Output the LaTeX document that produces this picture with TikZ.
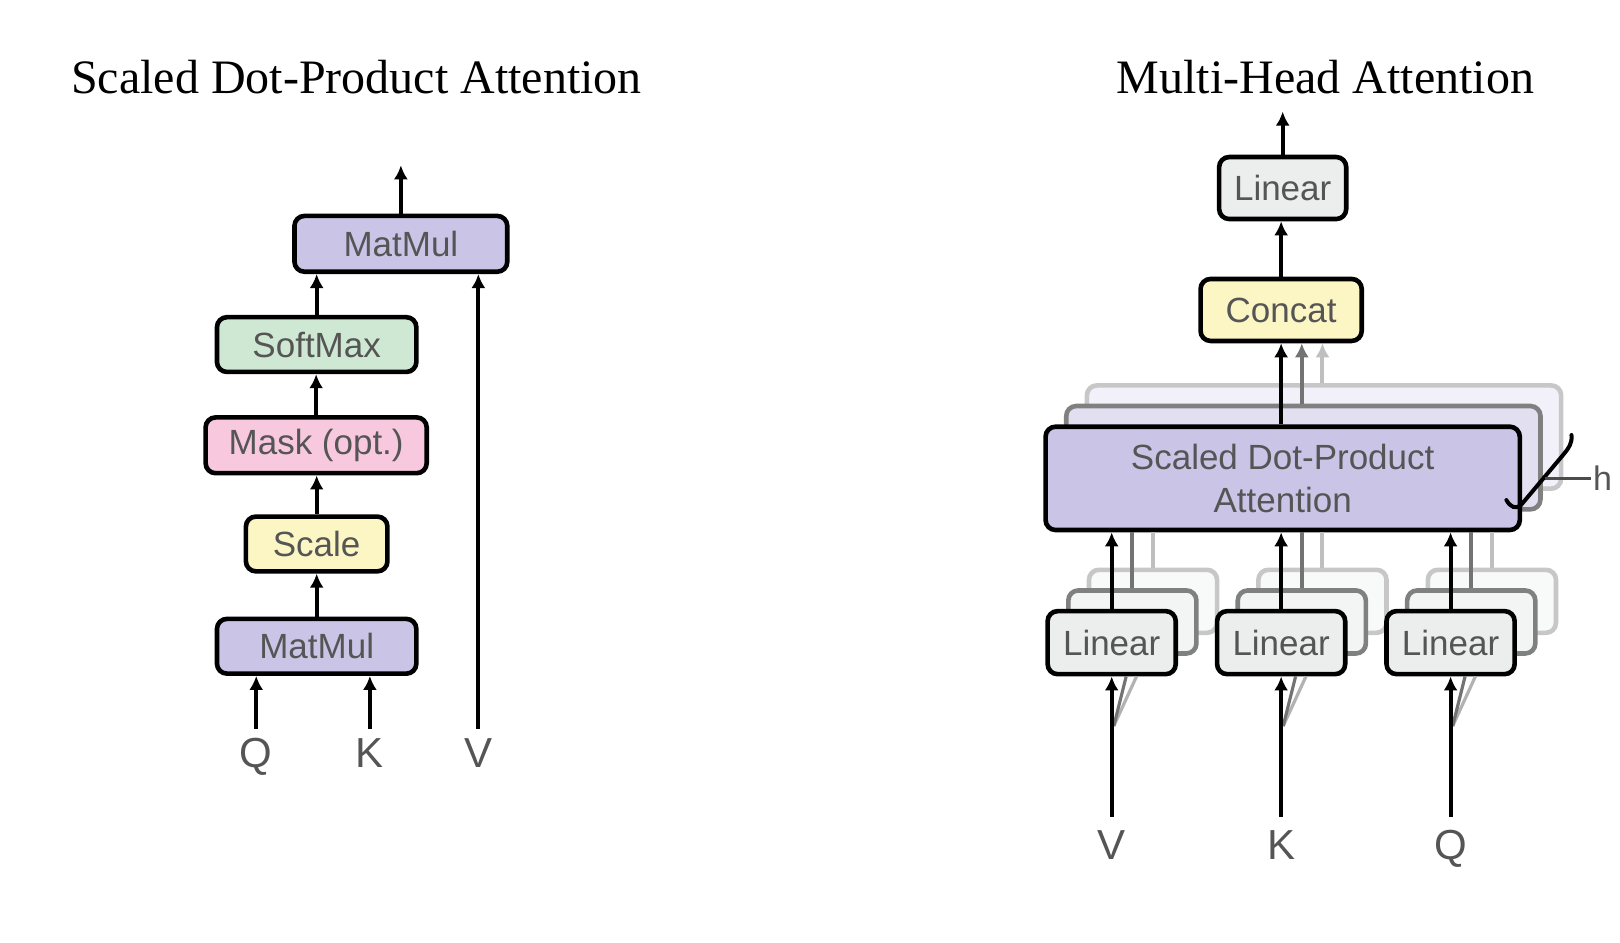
\documentclass[tikz,border=0pt]{standalone}
\usepackage{fontspec}
\setmainfont{Liberation Serif}
\setsansfont{Liberation Sans}
\usetikzlibrary{arrows.meta,calc}
\definecolor{cpurp}{HTML}{CAC4E6}
\definecolor{cgreen}{HTML}{CFE8D3}
\definecolor{cpink}{HTML}{F8C9DE}
\definecolor{cyel}{HTML}{FCF6C4}
\definecolor{cgray}{HTML}{ECEEEE}
\definecolor{ctext}{HTML}{555555}
\def\u{0.5166pt}
\begin{document}
\begin{tikzpicture}[x=\u, y=-\u,
  box/.style={draw=black, line width=2.3pt, rounded corners=5pt, inner sep=0pt,
    font=\sffamily\fontsize{17.5}{21.5}\selectfont, text=ctext},
  sz/.style 2 args={minimum width=#1*\u, minimum height=#2*\u},
  arr/.style={-{Latex[length=7pt,width=7pt]}, line width=2pt},
  lbl/.style={font=\sffamily\fontsize{21}{24}\selectfont, text=ctext, inner sep=2pt,
    text height=15pt, text depth=0pt},
  ttl/.style={font=\fontsize{24}{28}\selectfont, text=black},
  ghost/.style={line width=2pt}]
\useasboundingbox (0,0) rectangle (1568,912);

% ---------------- left: scaled dot-product attention
\node[ttl] (t1) at (345,75) {Scaled Dot-Product Attention};
\node[box, fill=cpurp, sz={206}{54}] (mm2) at (388,236) {MatMul};
\node[box, fill=cgreen, sz={193}{53}] (sm) at (306.5,333.5) {SoftMax};
\node[box, fill=cpink, sz={214}{54}] (mask) at (306,431) {Mask (opt.)};
\node[box, fill=cyel, sz={137}{53}] (sc) at (306.5,526.5) {Scale};
\node[box, fill=cpurp, sz={193}{53}] (mm1) at (306.5,625.5) {MatMul};
\node[lbl] (q1) at (248,728) {Q};
\node[lbl] (k1) at (358,728) {K};
\node[lbl] (v1) at (463,728) {V};
\coordinate (o1) at (388,160);
\draw[arr] (mm2.north) -- (o1);
\draw[arr] (sm.north) -- (sm.north |- mm2.south);
\draw[arr] (mask.north) -- (mask.north |- sm.south);
\draw[arr] (sc.north) -- (sc.north |- mask.south);
\draw[arr] (mm1.north) -- (mm1.north |- sc.south);
\draw[arr] ([yshift=2pt]q1.north) -- (q1.north |- mm1.south);
\draw[arr] ([yshift=2pt]k1.north) -- (k1.north |- mm1.south);
\draw[arr] ([yshift=2pt]v1.north) -- (v1.north |- mm2.south);

% ---------------- right: multi-head attention
\node[ttl] (t2) at (1283,75) {Multi-Head Attention};
\node[box, fill=cgray, sz={123}{60}] (lin) at (1241.5,182) {Linear};
\node[box, fill=cyel, sz={156}{60}] (cat) at (1240,300) {Concat};
\coordinate (o2) at (1241.5,108);
\draw[arr] (lin.north) -- (o2);
\draw[arr] (cat.north) -- (cat.north |- lin.south);

\node[box, fill=cpurp!25, draw=black!22, sz={459}{100}] (s3) at (1281.5,423) {};
\node[box, fill=cpurp!55, draw=black!50, sz={459}{100}] (s2) at (1261.5,443) {};
\node[box, fill=cpurp, sz={459}{100}, align=center] (s1) at (1241.5,463) {Scaled Dot-Product\\Attention};

\path ($(cat.south)+(20,0)$) coordinate (cb2);
\path ($(cat.south)+(40,0)$) coordinate (cb3);
\draw[arr, black!25] (cb3 |- s3.north) -- (cb3);
\draw[arr, black!55] (cb2 |- s2.north) -- (cb2);
\draw[arr] (cat.south |- s1.north) -- (cat.south);

% linear copies
\foreach \nm/\cx in {v/1076, k/1240, q/1404}{
  \node[box, fill=cgray!35, draw=black!22, sz={124}{61}] (l\nm c) at (\cx+40,582) {};
  \node[box, fill=cgray!65, draw=black!50, sz={124}{61}] (l\nm b) at (\cx+20,602) {};
  \draw[ghost, black!25] (l\nm c.north) -- (l\nm c.north |- s1.south);
  \draw[ghost, black!55] (l\nm b.north) -- (l\nm b.north |- s1.south);
}
\foreach \nm/\cx/\lb in {v/1076/V, k/1240/K, q/1404/Q}{
  \node[box, fill=cgray, sz={124}{61}] (l\nm a) at (\cx,622) {Linear};
  \draw[arr] (l\nm a.north) -- (l\nm a.north |- s1.south);
  \node[lbl] (in\nm) at (\cx,817) {\lb};
  \draw[black!30, line width=1.6pt] ($(l\nm a.south)+(2,48)$) -- ($(l\nm a.south)+(24,0)$);
  \draw[black!55, line width=1.6pt] ($(l\nm a.south)+(2,48)$) -- ($(l\nm a.south)+(14,0)$);
  \draw[arr] ([yshift=4pt]in\nm.north) -- (in\nm.north |- l\nm a.south);
}

% h bracket
\node[font=\sffamily\fontsize{17}{20}\selectfont, text=ctext, inner sep=1pt] (h) at (1551,463) {h};
\draw[line width=2pt, line cap=round] (1458,484) .. controls (1462,491) and (1467,493) .. (1472,489)
  -- (1514,439) .. controls (1518,434) and (1522,429) .. (1521,421);
\draw[line width=1.5pt, black!70] (1495,463) -- (h.west);
\end{tikzpicture}
\end{document}
